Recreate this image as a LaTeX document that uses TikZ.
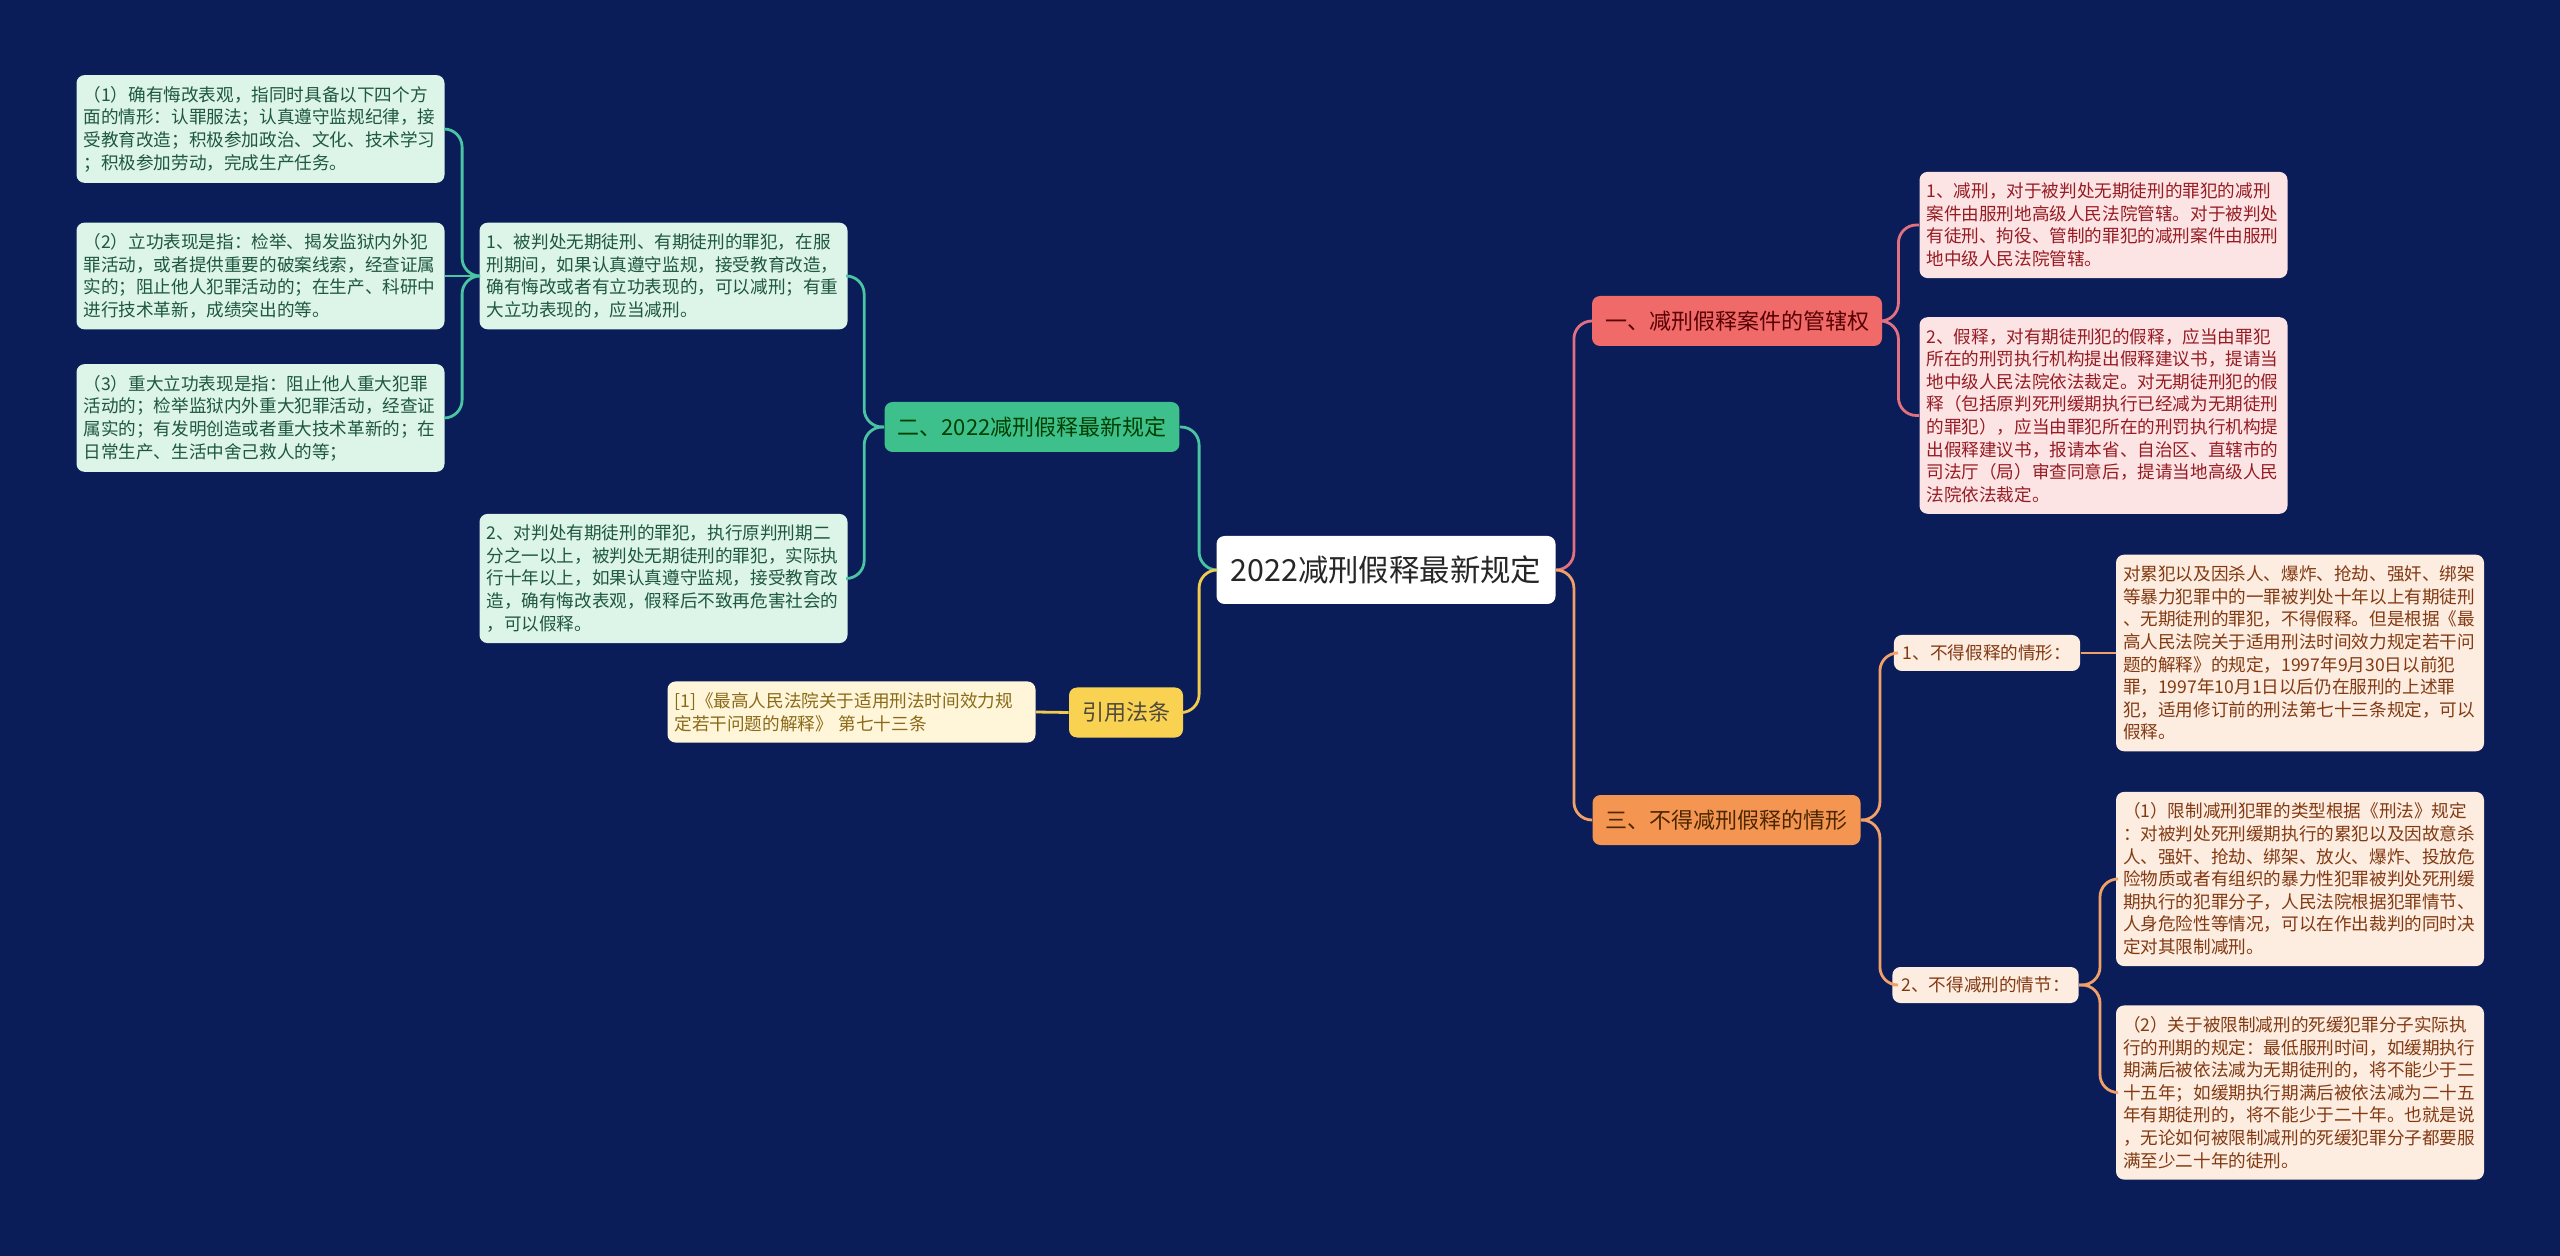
\documentclass[tikz,border=0pt]{standalone}
\usepackage{fontspec}
\setmainfont{Noto Sans CJK SC}

\definecolor{bgnavy}{RGB}{10,29,88}
\definecolor{redmain}{RGB}{240,106,106}
\definecolor{redleaf}{RGB}{253,228,228}
\definecolor{redtext}{RGB}{150,28,36}
\definecolor{redline}{RGB}{226,112,128}
\definecolor{orgmain}{RGB}{244,150,82}
\definecolor{orgleaf}{RGB}{253,236,224}
\definecolor{orgtext}{RGB}{130,58,18}
\definecolor{orgline}{RGB}{240,160,104}
\definecolor{grnmain}{RGB}{62,192,140}
\definecolor{grnleaf}{RGB}{221,244,232}
\definecolor{grntext}{RGB}{30,88,62}
\definecolor{grnline}{RGB}{74,196,162}
\definecolor{ylwmain}{RGB}{250,210,82}
\definecolor{ylwleaf}{RGB}{255,246,218}
\definecolor{ylwtext}{RGB}{138,106,24}
\definecolor{ylwline}{RGB}{242,202,80}

\begin{document}
\begin{tikzpicture}[
  x=0.5pt, y=-0.5pt,
  rootbox/.style={rectangle, rounded corners=4pt, fill=white, text=black!85,
    minimum width=169.5pt, minimum height=34pt, font=\fontsize{15.2}{18}\selectfont},
  mainbox/.style 2 args={rectangle, rounded corners=4pt, fill=#1, text=#2,
    inner xsep=6.5pt, minimum height=25pt, font=\fontsize{11}{13}\selectfont},
  subbox/.style={rectangle, rounded corners=4pt, fill=orgleaf, text=orgtext,
    inner xsep=4.5pt, minimum height=18pt, font=\fontsize{8.8}{11}\selectfont},
  leafbox/.style 2 args={rectangle, rounded corners=4pt, fill=#1, text=#2,
    text width=177pt, inner xsep=3.5pt, inner ysep=5.5pt, align=left,
    font=\fontsize{8.8}{11.3}\selectfont},
  link/.style={line width=1.4pt, rounded corners=9pt, #1}
]

% Background
\useasboundingbox (0,0) rectangle (2560,1256);
\fill[bgnavy] (0,0) rectangle (2560,1256);

% Root
\node[rootbox] (root) at (1386, 570) {2022减刑假释最新规定};

% Main branches
\node[mainbox={redmain}{red!35!black}] (juris) at (1737, 321) {一、减刑假释案件的管辖权};
\node[mainbox={orgmain}{orange!30!black}] (never) at (1726.5, 820) {三、不得减刑假释的情形};
\node[mainbox={grnmain}{green!25!black}] (rules) at (1032, 427) {二、2022减刑假释最新规定};
\node[mainbox={ylwmain}{yellow!20!black}] (cite) at (1126, 712.5) {引用法条};

% Right side: jurisdiction
\node[leafbox={redleaf}{redtext}] (jur1) at (2103.5, 225) {1、减刑，对于被判处无期徒刑的罪犯的减刑\\案件由服刑地高级人民法院管辖。对于被判处\\有徒刑、拘役、管制的罪犯的减刑案件由服刑\\地中级人民法院管辖。};
\node[leafbox={redleaf}{redtext}] (jur2) at (2103.5, 415.5) {2、假释，对有期徒刑犯的假释，应当由罪犯\\所在的刑罚执行机构提出假释建议书，提请当\\地中级人民法院依法裁定。对无期徒刑犯的假\\释（包括原判死刑缓期执行已经减为无期徒刑\\的罪犯），应当由罪犯所在的刑罚执行机构提\\出假释建议书，报请本省、自治区、直辖市的\\司法厅（局）审查同意后，提请当地高级人民\\法院依法裁定。};

% Right side: exclusions
\node[subbox] (noparole) at (1987, 653) {1、不得假释的情形：};
\node[subbox] (nocut) at (1985.5, 985) {2、不得减刑的情节：};
\node[leafbox={orgleaf}{orgtext}] (np1) at (2300, 653) {对累犯以及因杀人、爆炸、抢劫、强奸、绑架\\等暴力犯罪中的一罪被判处十年以上有期徒刑\\、无期徒刑的罪犯，不得假释。但是根据《最\\高人民法院关于适用刑法时间效力规定若干问\\题的解释》的规定，1997年9月30日以前犯\\罪，1997年10月1日以后仍在服刑的上述罪\\犯，适用修订前的刑法第七十三条规定，可以\\假释。};
\node[leafbox={orgleaf}{orgtext}] (nc1) at (2300, 879) {（1）限制减刑犯罪的类型根据《刑法》规定\\：对被判处死刑缓期执行的累犯以及因故意杀\\人、强奸、抢劫、绑架、放火、爆炸、投放危\\险物质或者有组织的暴力性犯罪被判处死刑缓\\期执行的犯罪分子，人民法院根据犯罪情节、\\人身危险性等情况，可以在作出裁判的同时决\\定对其限制减刑。};
\node[leafbox={orgleaf}{orgtext}] (nc2) at (2300, 1092.5) {（2）关于被限制减刑的死缓犯罪分子实际执\\行的刑期的规定：最低服刑时间，如缓期执行\\期满后被依法减为无期徒刑的，将不能少于二\\十五年；如缓期执行期满后被依法减为二十五\\年有期徒刑的，将不能少于二十年。也就是说\\，无论如何被限制减刑的死缓犯罪分子都要服\\满至少二十年的徒刑。};

% Left side: rules
\node[leafbox={grnleaf}{grntext}] (cut) at (663.5, 276) {1、被判处无期徒刑、有期徒刑的罪犯，在服\\刑期间，如果认真遵守监规，接受教育改造，\\确有悔改或者有立功表现的，可以减刑；有重\\大立功表现的，应当减刑。};
\node[leafbox={grnleaf}{grntext}] (parole) at (663.5, 578.5) {2、对判处有期徒刑的罪犯，执行原判刑期二\\分之一以上，被判处无期徒刑的罪犯，实际执\\行十年以上，如果认真遵守监规，接受教育改\\造，确有悔改表观，假释后不致再危害社会的\\，可以假释。};
\node[leafbox={grnleaf}{grntext}] (cut1) at (260.5, 129) {（1）确有悔改表观，指同时具备以下四个方\\面的情形：认罪服法；认真遵守监规纪律，接\\受教育改造；积极参加政治、文化、技术学习\\；积极参加劳动，完成生产任务。};
\node[leafbox={grnleaf}{grntext}] (cut2) at (260.5, 276) {（2）立功表现是指：检举、揭发监狱内外犯\\罪活动，或者提供重要的破案线索，经查证属\\实的；阻止他人犯罪活动的；在生产、科研中\\进行技术革新，成绩突出的等。};
\node[leafbox={grnleaf}{grntext}] (cut3) at (260.5, 418) {（3）重大立功表现是指：阻止他人重大犯罪\\活动的；检举监狱内外重大犯罪活动，经查证\\属实的；有发明创造或者重大技术革新的；在\\日常生产、生活中舍己救人的等；};

% Left side: citation
\node[leafbox={ylwleaf}{ylwtext}] (law) at (851.5, 712) {[1]《最高人民法院关于适用刑法时间效力规\\定若干问题的解释》 第七十三条};

% Links from root
\draw[link=redline] (root.east) -- ++(18,0) |- (juris.west);
\draw[link=orgline] (root.east) -- ++(18,0) |- (never.west);
\draw[link=grnline] (root.west) -- ++(-17,0) |- (rules.east);
\draw[link=ylwline] (root.west) -- ++(-17,0) |- (cite.east);

% Links: jurisdiction
\draw[link=redline] (juris.east) -- ++(16,0) |- (jur1.west);
\draw[link=redline] (juris.east) -- ++(16,0) |- (jur2.west);

% Links: exclusions
\draw[link=orgline] (never.east) -- ++(19,0) |- (noparole.west);
\draw[link=orgline] (never.east) -- ++(19,0) |- (nocut.west);
\draw[link=orgline] (noparole.east) -- (np1.west);
\draw[link=orgline] (nocut.east) -- ++(21,0) |- (nc1.west);
\draw[link=orgline] (nocut.east) -- ++(21,0) |- (nc2.west);

% Links: rules
\draw[link=grnline] (rules.west) -- ++(-20,0) |- (cut.east);
\draw[link=grnline] (rules.west) -- ++(-20,0) |- (parole.east);
\draw[link=grnline] (cut.west) -- ++(-17,0) |- (cut1.east);
\draw[link=grnline] (cut.west) -- (cut2.east);
\draw[link=grnline] (cut.west) -- ++(-17,0) |- (cut3.east);

% Link: citation
\draw[link=ylwline] (cite.west) -- (law.east);

\end{tikzpicture}
\end{document}
